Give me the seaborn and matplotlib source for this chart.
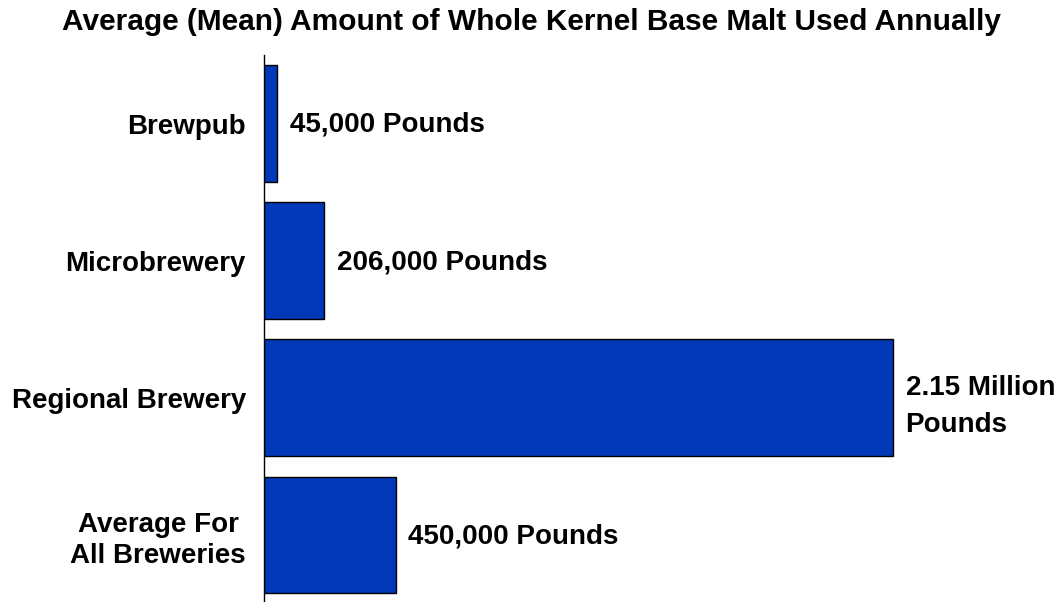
import pandas as pd
import seaborn as sns
import matplotlib.pyplot as plt

# Data
categories = ["Brewpub", "Microbrewery", "Regional Brewery", "Average For\nAll Breweries"]
pounds = [45000, 206000, 2150000, 450000]
bar_labels = ["45,000 Pounds", "206,000 Pounds", "2.15 Million\nPounds", "450,000 Pounds"]
title = "Average (Mean) Amount of Whole Kernel Base Malt Used Annually"

df = pd.DataFrame({"category": categories, "pounds": pounds})

sns.set_style("white")
plt.rcParams["font.family"] = ["Liberation Sans", "DejaVu Sans"]
plt.rcParams["font.weight"] = "bold"
plt.rcParams["text.color"] = "black"

fig = plt.figure(figsize=(10.6, 6.02), dpi=100)
ax = fig.add_axes([264 / 1060, 0.0, 1 - 264 / 1060, 1 - 55 / 602])

sns.barplot(data=df, x="pounds", y="category", orient="h", color="#0038B8",
            saturation=1, edgecolor="black", linewidth=1, width=0.85, ax=ax)

# scale: 2.15M lands at ~893 px
ax.set_xlim(0, 2150000 * (1060 - 264) / (893 - 264))
ax.set_ylim(3.49, -0.5)

for i, (v, lab) in enumerate(zip(pounds, bar_labels)):
    multi = "\n" in lab
    ax.annotate(lab, xy=(v, i), xytext=(9, -6 if multi else -1), textcoords="offset points",
                va="center", ha="left", fontsize=20, fontweight="bold",
                linespacing=1.55, color="black")

ax.set_xlabel("")
ax.set_ylabel("")
ax.set_xticks([])
ax.tick_params(axis="y", length=0, pad=13, labelcolor="black")
for t in ax.get_yticklabels():
    t.set_fontsize(20)
    t.set_fontweight("bold")
    t.set_multialignment("center")
    t.set_linespacing(1.26)

for s in ["top", "right", "bottom"]:
    ax.spines[s].set_visible(False)
ax.spines["left"].set_color("black")
ax.spines["left"].set_linewidth(1)

fig.text(531 / 1060, 1 - 22 / 602, title, ha="center", va="center",
         fontsize=21.5, fontweight="bold", color="black")

fig.savefig("out.png", dpi=100)
